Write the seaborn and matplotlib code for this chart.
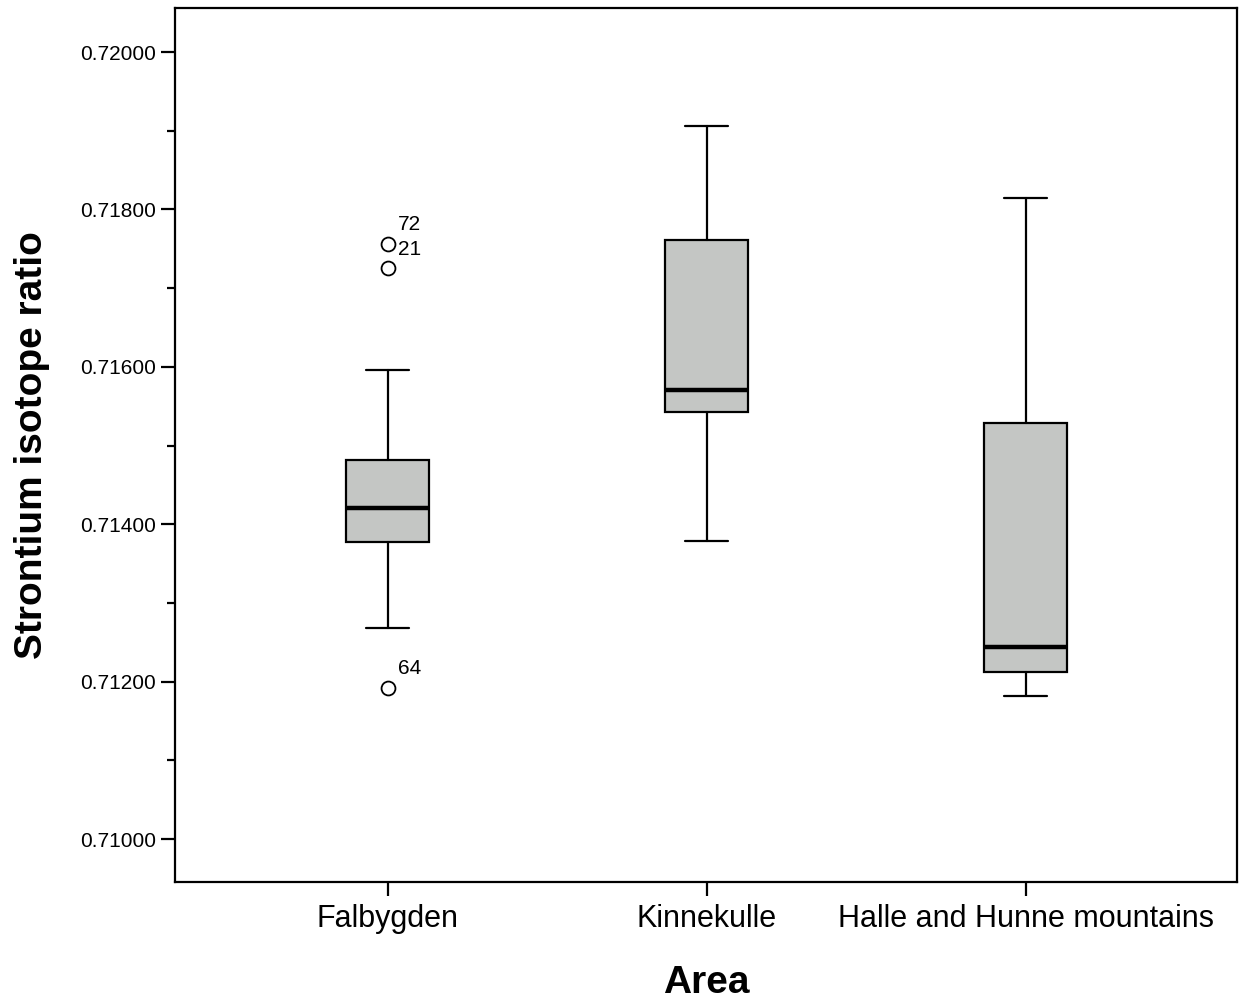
import matplotlib
matplotlib.use("Agg")
import matplotlib.pyplot as plt
from matplotlib.ticker import MultipleLocator, FormatStrFormatter
import seaborn as sns

sns.set_style("ticks")
plt.rcParams["font.family"] = ["Liberation Sans", "DejaVu Sans"]
plt.rcParams["text.color"] = "black"
plt.rcParams["axes.labelcolor"] = "black"
plt.rcParams["xtick.color"] = "black"
plt.rcParams["ytick.color"] = "black"

# summary statistics
areas      = ["Falbygden", "Kinnekulle", "Halle and Hunne mountains"]
whisk_lo   = [0.71268, 0.71379, 0.71182]
q1         = [0.71377, 0.71543, 0.71212]
median     = [0.71421, 0.71570, 0.71244]
q3         = [0.71482, 0.71761, 0.71529]
whisk_hi   = [0.71596, 0.71906, 0.71815]
outliers   = [[0.71756, 0.71725, 0.71192], [], []]
out_labels = [["72", "21", "64"], [], []]

BOX_GRAY = "#C4C6C4"

stats = []
for i, name in enumerate(areas):
    stats.append(dict(label=name, whislo=whisk_lo[i], q1=q1[i], med=median[i],
                      q3=q3[i], whishi=whisk_hi[i], fliers=outliers[i]))

fig = plt.figure(figsize=(12.43, 10.01), dpi=100)
ax = fig.add_axes([0.1408, 0.1189, 0.8544, 0.8731])

ax.bxp(stats, positions=range(len(areas)), widths=0.26, patch_artist=True,
       boxprops=dict(facecolor=BOX_GRAY, edgecolor="black", linewidth=1.6),
       medianprops=dict(color="black", linewidth=3.2),
       whiskerprops=dict(color="black", linewidth=1.6),
       capprops=dict(color="black", linewidth=1.6),
       capwidths=0.135,
       flierprops=dict(marker="o", markersize=10, markerfacecolor="white",
                       markeredgecolor="black", markeredgewidth=1.3))

# case-number labels beside the outliers
for i in range(len(areas)):
    for val, lab in zip(outliers[i], out_labels[i]):
        ax.annotate(lab, (i, val), xytext=(7, 7), textcoords="offset points",
                    fontsize=15, ha="left", va="bottom", color="black")

ax.set_xlim(-0.667, 2.662)
ax.set_ylim(0.709454, 0.72056)
ax.yaxis.set_major_locator(MultipleLocator(0.002))
ax.yaxis.set_minor_locator(MultipleLocator(0.001))
ax.yaxis.set_major_formatter(FormatStrFormatter("%.5f"))
ax.set_xticks(range(len(areas)))
ax.set_xticklabels(areas)

ax.tick_params(axis="y", which="major", length=10, width=1.6, labelsize=15, direction="out")
ax.tick_params(axis="y", which="minor", length=6, width=1.6, direction="out")
ax.tick_params(axis="x", which="major", length=10, width=1.6, labelsize=22, direction="out", pad=6)
for sp in ax.spines.values():
    sp.set_linewidth(1.6)
    sp.set_color("black")

ax.set_xlabel("Area", fontsize=28, fontweight="bold", labelpad=22)
ax.set_ylabel("Strontium isotope ratio", fontsize=28, fontweight="bold", labelpad=22)

fig.savefig("out.png", dpi=100, facecolor="white")
